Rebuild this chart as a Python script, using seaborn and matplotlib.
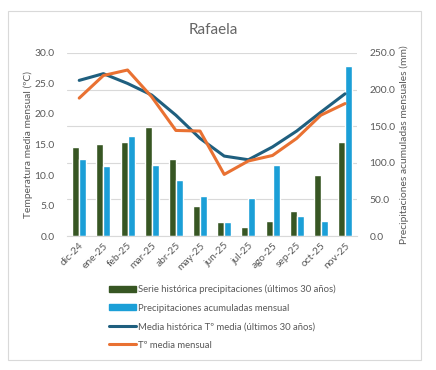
import numpy as np
import pandas as pd
import matplotlib.pyplot as plt
import seaborn as sns
from matplotlib.patches import Rectangle

months = ['dic-24', 'ene-25', 'feb-25', 'mar-25', 'abr-25', 'may-25',
          'jun-25', 'jul-25', 'ago-25', 'sep-25', 'oct-25', 'nov-25']
# precipitaciones (mm)
precip_hist = [121, 125, 129, 149, 105, 41, 19, 12, 20, 34, 83, 129]
precip_mes = [105, 95, 136, 97, 77, 55, 19, 52, 97, 27, 20, 232]
# temperatura media (ºC)
temp_hist = [25.5, 26.6, 25.0, 23.1, 19.8, 16.0, 13.1, 12.5, 14.6, 17.2, 20.3, 23.3]
temp_mes = [22.6, 26.3, 27.2, 22.8, 17.3, 17.2, 10.1, 12.3, 13.2, 16.0, 19.8, 21.7]

lbl_hist = 'Serie histórica precipitaciones (últimos 30 años)'
lbl_mes = 'Precipitaciones acumuladas mensual'
lbl_thist = 'Media histórica Tº media (últimos 30 años)'
lbl_tmes = 'Tº media mensual'

c_green = '#375623'
c_blue = '#1B9FD7'
c_navy = '#1F5F7F'
c_orange = '#E97132'
c_text = '#595959'

sns.set_style('white')
plt.rcParams['font.family'] = ['Lato', 'DejaVu Sans']

df = pd.DataFrame({
    'mes': months * 2,
    'mm': precip_hist + precip_mes,
    'serie': [lbl_hist] * 12 + [lbl_mes] * 12,
})

fig = plt.figure(figsize=(4.36, 3.70), dpi=100)
fig.patches.append(Rectangle((8 / 436, 1 - 360 / 370), 413 / 436, 349 / 370,
                             transform=fig.transFigure, fill=False,
                             edgecolor='#D9D9D9', linewidth=0.8))

# barras (mm) en el eje principal, lineas (ºC) en el gemelo para que queden encima
ax = fig.add_axes([0.154, 0.362, 0.665, 0.495])
sns.barplot(data=df, x='mes', y='mm', hue='serie', palette=[c_green, c_blue],
            width=0.58, gap=0, saturation=1, ax=ax, legend=False)
ax.set_xlabel('')
ax.grid(axis='y', color='#D9D9D9', linewidth=0.8)
ax.set_axisbelow(True)
for s in ['top', 'left', 'right']:
    ax.spines[s].set_visible(False)
ax.spines['bottom'].set_color('#D9D9D9')
ax.tick_params(axis='x', length=0, labelsize=7.4, labelcolor=c_text)
plt.setp(ax.get_xticklabels(), rotation=45, ha='right', rotation_mode='anchor')
ax.set_xticks(np.arange(-0.5, len(months), 1), minor=True)
ax.tick_params(axis='x', which='minor', length=3, color='#D9D9D9')
ax.set_xlim(-0.5, len(months) - 0.5)

ax2 = ax.twinx()
xs = np.arange(len(months))
sns.lineplot(x=xs, y=temp_hist, color=c_navy, linewidth=2.2, ax=ax2, label=lbl_thist)
sns.lineplot(x=xs, y=temp_mes, color=c_orange, linewidth=2.2, ax=ax2, label=lbl_tmes)
ax2.set_ylim(0, 30)
ax2.set_yticks(np.arange(0, 31, 5))
ax2.set_yticklabels([f'{v:.1f}' for v in np.arange(0, 31, 5)])
ax2.yaxis.tick_left()
ax2.yaxis.set_label_position('left')
ax2.set_ylabel('Temperatura media mensual (ºC)', fontsize=7.4, color=c_text, labelpad=1)
ax2.tick_params(axis='y', length=0, labelsize=7.4, labelcolor=c_text, pad=9)
for s in ax2.spines.values():
    s.set_visible(False)
ax2.get_legend().remove()

ax.set_ylim(0, 250)
ax.set_yticks(np.arange(0, 251, 50))
ax.set_yticklabels([f'{v:.1f}' for v in np.arange(0, 251, 50)])
ax.yaxis.tick_right()
ax.yaxis.set_label_position('right')
ax.set_ylabel('Precipitaciones acumuladas mensuales (mm)', fontsize=7.4, color=c_text, labelpad=3)
ax.tick_params(axis='y', length=0, labelsize=7.4, labelcolor=c_text, pad=9)

fig.text(0.49, 1 - 30 / 370, 'Rafaela', ha='center', va='center', fontsize=11, color='#666666')

bar_handles = [Rectangle((0, 0), 1, 1, color=c_green), Rectangle((0, 0), 1, 1, color=c_blue)]
h2, l2 = ax2.get_legend_handles_labels()
leg = fig.legend(bar_handles + h2, [lbl_hist, lbl_mes] + l2, loc='upper left',
                 bbox_to_anchor=(105 / 436, 1 - 281 / 370), frameon=False,
                 fontsize=6.8, labelcolor=c_text, handlelength=2.9, handleheight=0.6,
                 handletextpad=0.2, labelspacing=1.0, borderaxespad=0)

fig.savefig('out.png', dpi=100)
